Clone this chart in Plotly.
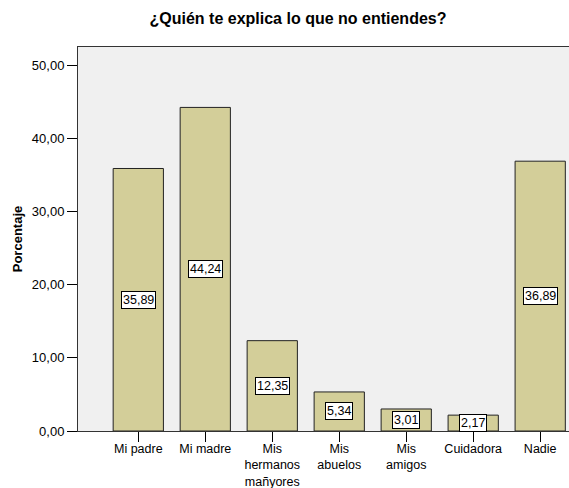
import plotly.graph_objects as go

# data
categorias = ["Mi padre", "Mi madre", "Mis<br>hermanos<br>mañyores", "Mis<br>abuelos",
              "Mis<br>amigos", "Cuidadora", "Nadie"]
porcentajes = [35.89, 44.24, 12.35, 5.34, 3.01, 2.17, 36.89]
y_ticks = [0, 10, 20, 30, 40, 50]

FONT = "Arial, Liberation Sans, sans-serif"

W, H = 569, 488

x_pos = list(range(len(categorias)))

fig = go.Figure()
fig.add_trace(go.Bar(
  x = x_pos,
  y = porcentajes,
  width = 0.75,
  marker = dict(color = "#D3CE99", line = dict(color = "#222222", width = 1)),
  hoverinfo = "skip",
))

# value labels: white boxes at mid-height of each bar
for xi, v in zip(x_pos, porcentajes):
  fig.add_annotation(
    x = xi, y = v / 2,
    text = f"{v:.2f}".replace(".", ","),
    showarrow = False,
    bgcolor = "white",
    bordercolor = "black",
    borderwidth = 1,
    borderpad = 1,
    font = dict(family = FONT, size = 12.5, color = "black"),
  )

fig.update_layout(
  width = W, height = H,
  margin = dict(l = 78, r = 0, t = 47, b = 57, autoexpand = False),
  paper_bgcolor = "white",
  plot_bgcolor = "#F0F0F0",
  separators = ",.",
  showlegend = False,
  font = dict(family = FONT, size = 13, color = "black"),
  title = dict(
    text = "<b>¿Quién te explica lo que no entiendes?</b>",
    x = 298 / W, xanchor = "center", xref = "container",
    y = 1 - 18 / H, yanchor = "middle", yref = "container",
    font = dict(family = FONT, size = 16, color = "black"),
  ),
  xaxis = dict(
    range = [-0.9, 6.43],
    tickmode = "array", tickvals = x_pos, ticktext = categorias,
    ticks = "outside", ticklen = 10, tickcolor = "black",
    ticklabelstandoff = -4,
    showline = True, linecolor = "#333333", linewidth = 1, mirror = True,
    showgrid = False, zeroline = False,
    tickfont = dict(family = FONT, size = 12.5),
  ),
  yaxis = dict(
    range = [0, 52.5],
    tickmode = "array", tickvals = y_ticks, tickformat = ".2f",
    ticks = "outside", ticklen = 10, tickcolor = "black",
    showline = True, linecolor = "#333333", linewidth = 1,
    showgrid = False, zeroline = False,
    tickfont = dict(family = FONT, size = 13),
    title = dict(text = "<b>Porcentaje</b>", standoff = 6,
                 font = dict(family = FONT, size = 13)),
  ),
)

# drop the browser's default 8px body margin so the figure fills the window
fig.write_html("out.html", config = {"displayModeBar": False},
               post_script = "document.body.style.margin = '0';")
